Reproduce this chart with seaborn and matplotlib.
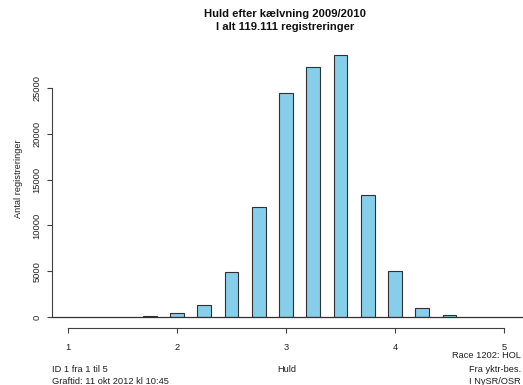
import matplotlib
matplotlib.use('Agg')
import matplotlib.pyplot as plt
import seaborn as sns
import pandas as pd

# Huld score classes and number of registrations per class
huld = [1.75, 2.0, 2.25, 2.5, 2.75, 3.0, 3.25, 3.5, 3.75, 4.0, 4.25, 4.5]
antal = [80, 400, 1310, 4880, 12040, 24450, 27260, 28640, 13290, 4990, 950, 220]

x_ticks = [1, 2, 3, 4, 5]
y_ticks = [0, 5000, 10000, 15000, 20000, 25000]

title = 'Huld efter kælvning 2009/2010\nI alt 119.111 registreringer'

sns.set_style('ticks')
plt.rcParams['font.family'] = ['Liberation Sans', 'DejaVu Sans']

df = pd.DataFrame({'huld': huld, 'antal': antal})

W, H = 523, 385
fig = plt.figure(figsize=(W / 100, H / 100), dpi=100)
# axes spans pixels x 52..523, y 40..317
ax = fig.add_axes([52 / W, (H - 317) / H, (W - 52) / W, 277 / H])

sns.barplot(data=df, x='huld', y='antal', native_scale=True, width=0.5,
            color='#87CEEB', saturation=1, edgecolor='#303030',
            linewidth=0.8, ax=ax)

# px per unit: 109 on x, 229/25000 on y
ax.set_xlim(1 - 16 / 109, 1 + (W - 68) / 109)
ax.set_ylim(0, 277 / 229 * 25000)
ax.axhline(0, color='#303030', lw=0.9, clip_on=False, zorder=5)

for side in ('top', 'right'):
    ax.spines[side].set_visible(False)
ax.spines['left'].set_bounds(0, 25000)
ax.spines['left'].set_color('#404040')
ax.spines['left'].set_linewidth(0.8)
ax.spines['bottom'].set_position(('outward', 8))
ax.spines['bottom'].set_bounds(1, 5)
ax.spines['bottom'].set_color('#404040')
ax.spines['bottom'].set_linewidth(0.8)

ax.set_xticks(x_ticks)
ax.set_xticklabels([str(t) for t in x_ticks])
ax.set_yticks(y_ticks)
ax.set_yticklabels([str(t) for t in y_ticks], rotation=90, va='center')
ax.tick_params(axis='both', direction='out', length=3.6, width=0.8,
               color='#404040', labelsize=6.7, labelcolor='#202020')
ax.tick_params(axis='x', pad=7)
ax.tick_params(axis='y', pad=4)
ax.set_xlabel('')
ax.set_ylabel('Antal registreringer', fontsize=6.7, color='#202020', labelpad=7)

fig.text(285 / W, 1 - 9 / H, title, ha='center', va='top', fontsize=8.1,
         fontweight='bold', linespacing=1.35, color='#101010')

small = dict(fontsize=6.7, color='#202020')
fig.text(52 / W, 1 - 369 / H, 'ID 1 fra 1 til 5', ha='left', va='center', **small)
fig.text(52 / W, 1 - 381 / H, 'Graftid: 11 okt 2012 kl 10:45', ha='left', va='center', **small)
fig.text(287 / W, 1 - 369 / H, 'Huld', ha='center', va='center', **small)
fig.text(521 / W, 1 - 356 / H, 'Race 1202: HOL', ha='right', va='center', **small)
fig.text(521 / W, 1 - 369 / H, 'Fra yktr-bes.', ha='right', va='center', **small)
fig.text(521 / W, 1 - 381 / H, 'I NySR/OSR', ha='right', va='center', **small)

fig.savefig('out.png', dpi=100)
